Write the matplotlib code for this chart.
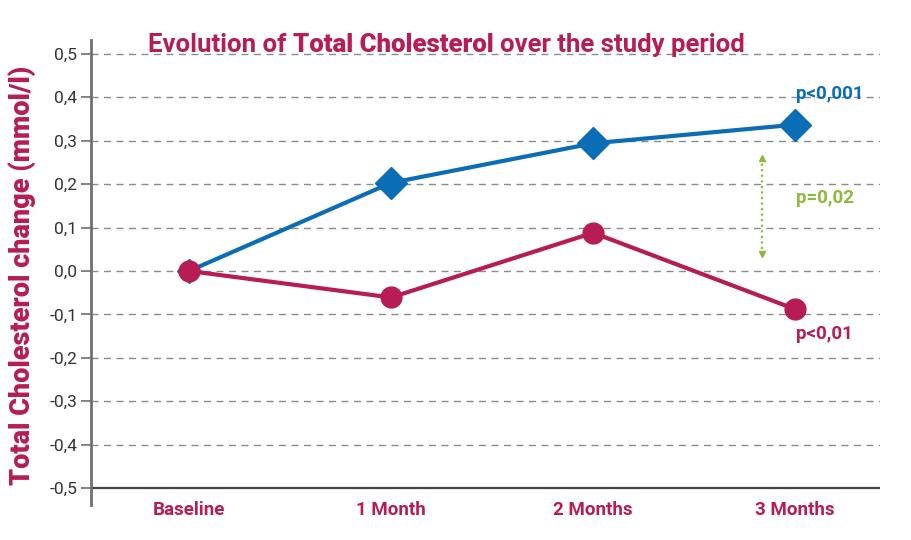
import matplotlib
matplotlib.use("Agg")
import matplotlib.pyplot as plt

categories = ["Baseline", "1 Month", "2 Months", "3 Months"]
blue_values = [0.0, 0.203, 0.294, 0.337]
red_values = [0.0, -0.061, 0.088, -0.088]
yticks = [0.5, 0.4, 0.3, 0.2, 0.1, 0.0, -0.1, -0.2, -0.3, -0.4, -0.5]
ytick_labels = ["0,5", "0,4", "0,3", "0,2", "0,1", "0,0", "-0,1", "-0,2", "-0,3", "-0,4", "-0,5"]
p_blue = "p<0,001"
p_red = "p<0,01"
p_diff = "p=0,02"
diff_range = (0.26, 0.04)

BLUE = "#0b6db5"
RED = "#b71c54"
GREEN = "#8cba3a"
GRAY = "#333333"

plt.rcParams["font.family"] = ["Roboto", "DejaVu Sans"]

W, H = 912, 540
fig = plt.figure(figsize=(W / 100, H / 100), dpi=100)
ax = fig.add_axes([91 / W, (H - 505) / H, (880 - 91) / W, (505 - 40) / H])

x = list(range(len(categories)))
ax.set_xlim(-0.485, 3.42)
ax.set_ylim(-0.539, 0.532)

# grid
for v in yticks[:-1]:
    ax.axhline(v, color="#8a8a8a", lw=1.0, ls=(0, (5, 4)), zorder=1)
ax.axhline(-0.5, color="#444444", lw=1.6, zorder=2)

for s in ["top", "right", "bottom"]:
    ax.spines[s].set_visible(False)
ax.spines["left"].set_color("#707070")
ax.spines["left"].set_linewidth(2)

ax.set_yticks(yticks)
ax.set_yticklabels(ytick_labels, fontsize=12.5, color=GRAY)
ax.tick_params(axis="y", length=7, width=1.2, color="#707070", pad=3)
ax.set_xticks(x)
ax.set_xticklabels(categories, fontsize=13.5, fontweight="bold", color=RED)
ax.tick_params(axis="x", length=0, pad=-3)

# series
ax.plot(x, blue_values, color=BLUE, lw=3, zorder=3)
ax.plot(x[1:], blue_values[1:], ls="none", marker="D", markersize=16, color=BLUE, zorder=4)
ax.plot(x[:1], blue_values[:1], ls="none", marker="D", markersize=12, color=BLUE, zorder=4)
ax.plot(x, red_values, color=RED, lw=3, marker="o", markersize=15, zorder=5)

# annotations
ax.text(3.005, 0.408, p_blue, color=BLUE, fontsize=13.5, fontweight="bold", va="center", ha="left")
ax.text(3.005, -0.145, p_red, color=RED, fontsize=13.5, fontweight="bold", va="center", ha="left")
ax.text(3.005, 0.168, p_diff, color=GREEN, fontsize=13.5, fontweight="bold", va="center", ha="left")
ax.plot([2.837, 2.837], list(diff_range), color=GREEN, lw=1.6, ls=(0, (1, 1.5)), zorder=3)
ax.plot([2.837], [diff_range[0]], marker="^", markersize=5, color=GREEN, zorder=3)
ax.plot([2.837], [diff_range[1]], marker="v", markersize=5, color=GREEN, zorder=3)

# title with mixed weights
t1 = ax.text(148 / W, (H - 57) / H, "Evolution of ", transform=fig.transFigure,
             fontsize=18.5, fontweight="bold", color=RED, va="bottom", ha="left")
t2 = ax.annotate("Total Cholesterol ", xy=(1, 0), xycoords=t1, fontsize=18.5,
                 fontweight="black", color=RED, va="bottom", ha="left")
t3 = ax.annotate("over the study period", xy=(1, 0), xycoords=t2, fontsize=18.5,
                 fontweight="bold", color=RED, va="bottom", ha="left")

fig.text(22 / W, (H - 275) / H, "Total Cholesterol change (mmol/l)", rotation=90, fontsize=19.5,
         fontweight="black", color=RED, ha="center", va="center")

fig.savefig("out.png", dpi=100)
